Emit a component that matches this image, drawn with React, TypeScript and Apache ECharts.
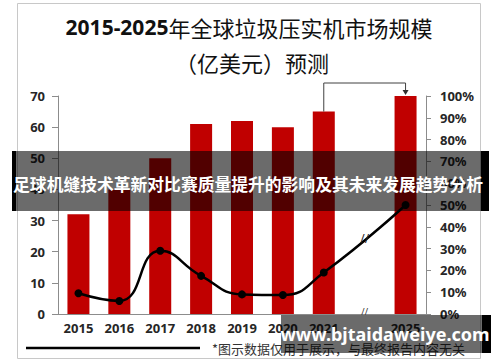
import React, { useEffect, useRef } from "react";
import * as echarts from "echarts";

const years = ["2015", "2016", "2017", "2018", "2019", "2020", "2021", "", "2025"];
const marketSize = [32, 40, 50, 61, 62, 60, 65, null, 70];
const growthPct = [9.5, 6, 29, 17.5, 9, 8.7, 19, null, 50];
const leftTicks = { min: 0, max: 70, interval: 10 };
const rightTicks = { min: 0, max: 100, interval: 10 };

const titleLine1a = "2015-2025";
const titleLine1b = "年全球垃圾压实机市场规模";
const titleLine2 = "（亿美元）预测";
const bannerText = "足球机缝技术革新对比赛质量提升的影响及其未来发展趋势分析";
const watermarkText = "www.bjtaidaweiye.com";
const footnoteText = "*图示数据仅用于展示，与最终报告内容无关";

const labelFont = "'Noto Sans', 'DejaVu Sans', sans-serif";
const cjkFont = "'Noto Sans CJK SC', sans-serif";

export default function App() {
  const ref = useRef<HTMLDivElement>(null);
  useEffect(() => {
    if (!ref.current) return;
    const chart = echarts.init(ref.current, null, { renderer: "svg" });
    chart.setOption({
      animation: false,
      backgroundColor: "#ffffff",
      grid: { left: 58, right: 74, top: 96, bottom: 48, containLabel: false },
      xAxis: {
        type: "category",
        data: years,
        axisLine: { lineStyle: { color: "#8c8c8c", width: 1 } },
        axisTick: { show: false },
        axisLabel: {
          color: "#262626",
          fontWeight: "bold",
          fontSize: 13,
          fontFamily: labelFont,
          margin: 7,
          interval: 0,
        },
      },
      yAxis: [
        {
          type: "value",
          ...leftTicks,
          position: "left",
          splitLine: { show: false },
          axisLine: { show: true, lineStyle: { color: "#8c8c8c" } },
          axisTick: { show: true, length: 6, lineStyle: { color: "#8c8c8c" } },
          axisLabel: {
            color: "#262626",
            fontWeight: "bold",
            fontSize: 13,
            fontFamily: labelFont,
            margin: 13,
          },
        },
        {
          type: "value",
          ...rightTicks,
          position: "right",
          splitLine: { show: false },
          axisLine: { show: true, lineStyle: { color: "#8c8c8c" } },
          axisTick: { show: true, length: 5, lineStyle: { color: "#8c8c8c" } },
          axisLabel: {
            color: "#262626",
            fontWeight: "bold",
            fontSize: 13,
            fontFamily: labelFont,
            margin: 14,
            formatter: "{value}%",
          },
        },
      ],
      series: [
        {
          type: "bar",
          data: marketSize,
          yAxisIndex: 0,
          barWidth: 22,
          itemStyle: { color: "#c00000" },
        },
        {
          type: "line",
          data: growthPct,
          yAxisIndex: 1,
          smooth: 0.5,
          connectNulls: true,
          symbol: "circle",
          symbolSize: 8,
          lineStyle: { color: "#000000", width: 2.5 },
          itemStyle: { color: "#000000" },
          z: 3,
        },
      ],
    });

    const p2021 = chart.convertToPixel({ xAxisIndex: 0, yAxisIndex: 0 }, [6, marketSize[6] as number]);
    const p2025 = chart.convertToPixel({ xAxisIndex: 0, yAxisIndex: 0 }, [8, marketSize[8] as number]);
    const bracketY = p2025[1] - 13;
    const breakLine = chart.convertToPixel({ xAxisIndex: 0, yAxisIndex: 1 }, [
      7,
      ((growthPct[6] as number) + (growthPct[8] as number)) / 2,
    ]);
    const breakAxis = chart.convertToPixel({ xAxisIndex: 0, yAxisIndex: 0 }, [7, 0]);

    chart.setOption({
      graphic: [
        {
          type: "rect",
          silent: true,
          z: 1,
          shape: { x: 17.5, y: 3.5, width: 463, height: 355 },
          style: { fill: "none", stroke: "#c8c8c8", lineWidth: 1 },
        },
        {
          type: "text",
          x: 249,
          y: 27,
          style: {
            text: `{a|${titleLine1a}}{b|${titleLine1b}}`,
            align: "center",
            verticalAlign: "middle",
            rich: {
              a: { fontSize: 21, fontWeight: "bold", fontFamily: labelFont, fill: "#111" },
              b: { fontSize: 22, fontWeight: "normal", fontFamily: cjkFont, fill: "#111" },
            },
          },
        },
        {
          type: "text",
          x: 252,
          y: 62,
          style: {
            text: titleLine2,
            align: "center",
            verticalAlign: "middle",
            fontSize: 22,
            fontFamily: cjkFont,
            fill: "#111",
          },
        },
        {
          type: "polyline",
          silent: true,
          z: 5,
          shape: {
            points: [
              [p2021[0], p2021[1]],
              [p2021[0], bracketY],
              [p2025[0], bracketY],
              [p2025[0], p2025[1] - 6],
            ],
          },
          style: { stroke: "#404040", lineWidth: 1, fill: "none" },
        },
        {
          type: "polygon",
          silent: true,
          z: 5,
          shape: {
            points: [
              [p2025[0] - 3, p2025[1] - 6],
              [p2025[0] + 3, p2025[1] - 6],
              [p2025[0], p2025[1] - 1],
            ],
          },
          style: { fill: "#303030" },
        },
        {
          type: "text",
          z: 6,
          x: breakLine[0],
          y: breakLine[1],
          style: {
            text: "//",
            align: "center",
            verticalAlign: "middle",
            fontSize: 12,
            fontFamily: labelFont,
            fill: "#222",
          },
        },
        {
          type: "text",
          z: 6,
          x: breakAxis[0],
          y: breakAxis[1] - 3,
          style: {
            text: "//",
            align: "center",
            verticalAlign: "middle",
            fontSize: 9,
            fontFamily: labelFont,
            fill: "#333",
          },
        },
        {
          type: "line",
          silent: true,
          shape: { x1: 26, y1: 348, x2: 200, y2: 348 },
          style: { stroke: "#000", lineWidth: 2.5 },
        },
        {
          type: "text",
          x: 212,
          y: 348,
          style: {
            text: footnoteText,
            verticalAlign: "middle",
            fontSize: 13,
            fontFamily: cjkFont,
            fill: "#333",
          },
        },
        {
          type: "rect",
          silent: true,
          z: 20,
          shape: { x: 16, y: 151, width: 465, height: 60 },
          style: { fill: "rgba(0,0,0,0.58)" },
        },
        {
          type: "rect",
          silent: true,
          z: 20,
          shape: { x: 12, y: 151, width: 4, height: 60 },
          style: { fill: "#000" },
        },
        {
          type: "rect",
          silent: true,
          z: 20,
          shape: { x: 481, y: 151, width: 8, height: 60 },
          style: { fill: "#000" },
        },
        {
          type: "text",
          z: 21,
          x: 248,
          y: 184,
          style: {
            text: bannerText,
            align: "center",
            verticalAlign: "middle",
            fontSize: 16.8,
            fontWeight: "bold",
            fontFamily: cjkFont,
            fill: "#ffffff",
          },
        },
        {
          type: "rect",
          silent: true,
          z: 20,
          shape: { x: 281, y: 315, width: 201, height: 38 },
          style: { fill: "rgba(0,0,0,0.58)" },
        },
        {
          type: "rect",
          silent: true,
          z: 20,
          shape: { x: 482, y: 315, width: 9, height: 38 },
          style: { fill: "#000" },
        },
        {
          type: "text",
          z: 21,
          x: 385,
          y: 334,
          style: {
            text: watermarkText,
            align: "center",
            verticalAlign: "middle",
            fontSize: 18,
            fontWeight: "bold",
            fontFamily: labelFont,
            fill: "#ffffff",
          },
        },
      ],
    });

    return () => chart.dispose();
  }, []);

  return (
    <div
      ref={ref}
      style={{ position: "fixed", left: 0, top: 0, width: 500, height: 362 }}
    />
  );
}
